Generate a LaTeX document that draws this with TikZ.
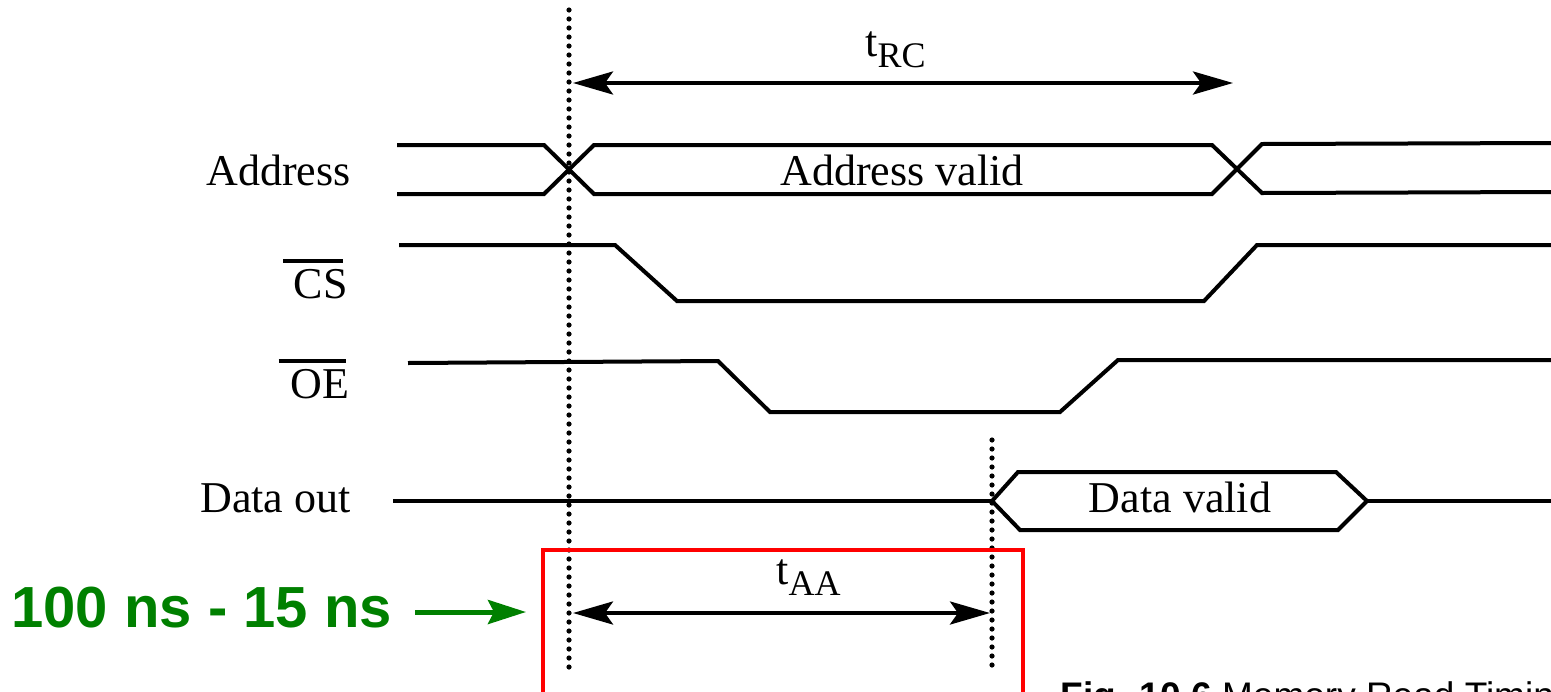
\documentclass[tikz,border=0pt]{standalone}
\usepackage{fontspec}
\setmainfont{Liberation Serif}
\newfontfamily\arialfont{Liberation Sans}
\usetikzlibrary{arrows.meta}
\definecolor{sgreen}{RGB}{0,128,0}
\definecolor{sred}{RGB}{255,0,0}
\begin{document}
\begin{tikzpicture}[x=0.5pt,y=-0.5pt,
  sig/.style={line width=2pt, line join=miter},
  vline/.style={line width=2.6pt, dash pattern=on 0pt off 4.5pt, line cap=round},
  dimarrow/.style={line width=2pt, {Stealth[length=20pt,width=11.5pt,inset=4pt]}-{Stealth[length=20pt,width=11.5pt,inset=4pt]}},
  lab/.style={font=\fontsize{22}{24}\selectfont, inner sep=0pt},
  ovl/.style={line width=2pt},
  sublab/.style={font=\fontsize{22}{24}\selectfont, inner sep=0pt, anchor=base west},
]
\useasboundingbox (0,0) rectangle (1551,691);

% signal labels
\node[lab, anchor=base east] (laddr) at (351,185) {Address};
\node[lab, anchor=base east] (lcs) at (348,298) {CS};
\node[lab, anchor=base east] (loe) at (350,398) {OE};
\node[lab, anchor=base east] (ldata) at (351,512) {Data out};
\draw[ovl] ([shift={(-10,-7)}]lcs.north west) -- ([shift={(-5,-7)}]lcs.north east);
\draw[ovl] ([shift={(-12,-7)}]loe.north west) -- ([shift={(-4,-7)}]loe.north east);

% Address bus
\coordinate (a0) at (397,145);
\coordinate (a1) at (544,145);
\coordinate (a2) at (594,145);
\coordinate (a3) at (1212,145);
\coordinate (a4) at (1262,144);
\coordinate (a5) at (1551,143);
\coordinate (b0) at (397,194);
\coordinate (b1) at (544,194);
\coordinate (b2) at (594,194);
\coordinate (b3) at (1212,194);
\coordinate (b4) at (1262,193);
\coordinate (b5) at (1551,192);
\draw[sig] (a0) -- (a1) -- (b2) -- (b3) -- (a4) -- (a5);
\draw[sig] (b0) -- (b1) -- (a2) -- (a3) -- (b4) -- (b5);
\node[lab, anchor=base] (avalid) at (902,185) {Address valid};

% CS
\coordinate (c0) at (399,245);
\coordinate (c1) at (615,245);
\coordinate (c2) at (677,301);
\coordinate (c3) at (1204,301);
\coordinate (c4) at (1257,245);
\coordinate (c5) at (1551,245);
\draw[sig] (c0) -- (c1) -- (c2) -- (c3) -- (c4) -- (c5);

% OE
\coordinate (o0) at (408,363);
\coordinate (o1) at (718,361);
\coordinate (o2) at (770,412);
\coordinate (o3) at (1060,412);
\coordinate (o4) at (1118,360);
\coordinate (o5) at (1551,360);
\draw[sig] (o0) -- (o1) -- (o2) -- (o3) -- (o4) -- (o5);

% Data out
\coordinate (d0) at (393,501);
\coordinate (d1) at (992,501);
\coordinate (d2) at (1018,472);
\coordinate (d3) at (1336,472);
\coordinate (d4) at (1367,501);
\coordinate (d5) at (1338,530);
\coordinate (d6) at (1020,530);
\coordinate (d7) at (1551,501);
\draw[sig] (d0) -- (d1);
\draw[sig] (d1) -- (d2) -- (d3) -- (d4) -- (d5) -- (d6) -- cycle;
\draw[sig] (d4) -- (d7);
\node[lab, anchor=base] (dvalid) at (1180,512) {Data valid};

% dotted reference lines
\coordinate (v1t) at (569,10);
\coordinate (v1b) at (569,670);
\coordinate (v2t) at (992,440);
\coordinate (v2b) at (992,672);
\draw[vline] (v1t) -- (v1b);
\draw[vline] (v2t) -- (v2b);

% tRC
\coordinate (r1) at (573,83);
\coordinate (r2) at (1233,83);
\draw[dimarrow] (r1) -- (r2);
\node[sublab] (trc) at (865,56) {t\raisebox{-5.5pt}{\fontsize{18}{20}\selectfont RC}};

% tAA
\coordinate (s1) at (573,613);
\coordinate (s2) at (990,613);
\draw[dimarrow] (s1) -- (s2);
\node[sublab] (taa) at (776,584) {t\raisebox{-5.5pt}{\fontsize{18}{20}\selectfont AA}};

% red highlight box
\draw[sred, line width=2pt] (543,550) rectangle (1023,700);

% green annotation
\node[anchor=base west, inner sep=0pt, text=sgreen, font=\arialfont\bfseries\fontsize{29}{32}\selectfont] (gtext) at (11,627) {100 ns - 15 ns};
\coordinate (g1) at (415,612);
\coordinate (g2) at (526,612);
\draw[sgreen, line width=2.5pt, -{Stealth[length=19pt,width=12pt,inset=3pt]}] (g1) -- (g2);

% caption (cut off at the lower edge, as in the reference)
\node[anchor=base west, inner sep=0pt, font=\arialfont\fontsize{18.5}{20}\selectfont] (cap) at (1060,708) {\textbf{Fig. 10.6} Memory Read Timing};
\end{tikzpicture}
\end{document}
